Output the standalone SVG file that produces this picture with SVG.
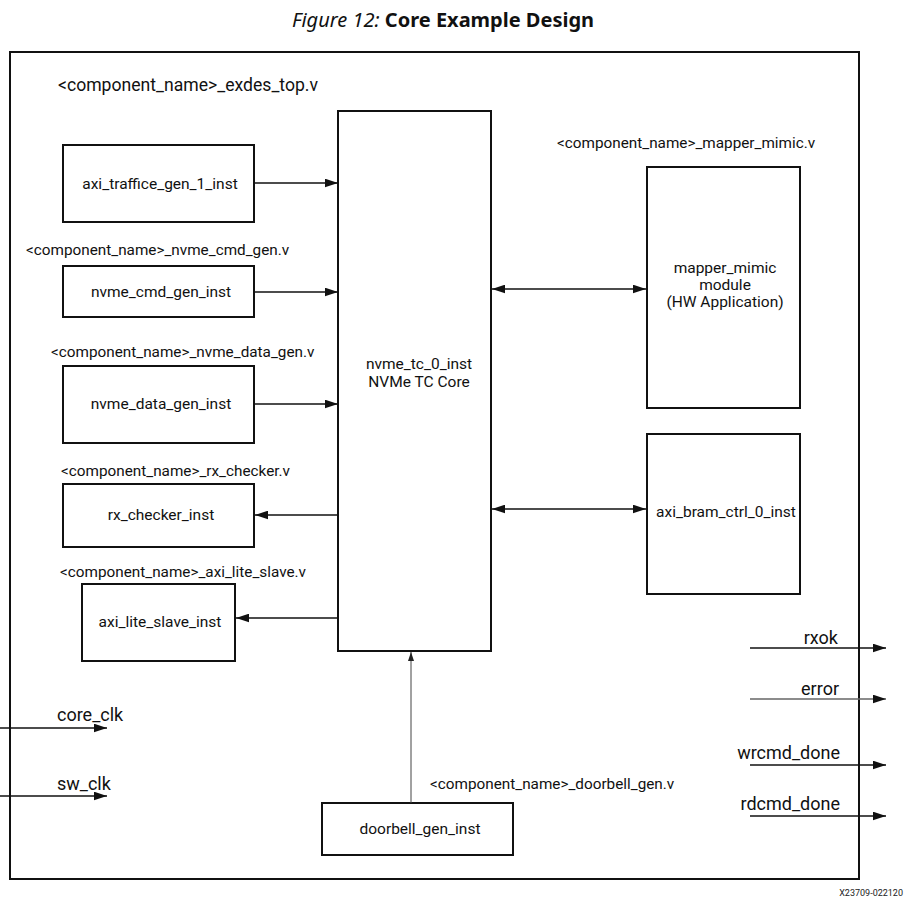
<svg xmlns="http://www.w3.org/2000/svg" width="906" height="903" viewBox="0 0 906 903">
<style>
.box{fill:#fff;stroke:#111;stroke-width:2}
.lbl{font-family:Roboto,"Liberation Sans",sans-serif;font-size:15.3px;fill:#111}
.lblb{font-family:Roboto,"Liberation Sans",sans-serif;font-size:15.5px;fill:#111}
.sig{font-family:Roboto,"Liberation Sans",sans-serif;font-size:18px;fill:#111}
.mid{text-anchor:middle}
.end{text-anchor:end}
.ln{stroke:#111;stroke-width:1.5;fill:none}
</style>
<defs>
<marker id="ah" markerUnits="userSpaceOnUse" markerWidth="13" markerHeight="9" refX="12" refY="4" orient="auto-start-reverse" viewBox="0 0 12 8">
<path d="M0,0 L12,4 L0,8 z" fill="#111"/>
</marker>
<marker id="ahg" markerUnits="userSpaceOnUse" markerWidth="9" markerHeight="13" refX="12" refY="4" orient="auto" viewBox="0 0 12 8">
<path d="M0,0 L12,4 L0,8 z" fill="#222"/>
</marker>
</defs>
<rect width="906" height="903" fill="#fff"/>
<text x="443" y="27" text-anchor="middle" font-family="'Noto Sans','Open Sans',sans-serif" font-size="20px" fill="#111"><tspan font-style="italic">Figure 12:</tspan> <tspan font-weight="bold">Core Example Design</tspan></text>
<g id="top">
<rect x="10" y="52" width="849" height="827" fill="none" stroke="#111" stroke-width="2"/>
<text class="sig" x="58" y="91" style="font-size:17.6px">&lt;component_name&gt;_exdes_top.v</text>
</g>
<g id="core">
<rect class="box" x="338" y="111" width="153" height="540"/>
<text class="lblb mid" x="419" y="369">nvme_tc_0_inst</text>
<text class="lblb mid" x="419" y="387">NVMe TC Core</text>
</g>
<g id="axi_traffic">
<rect class="box" x="63" y="145" width="191" height="77"/>
<text class="lblb mid" x="160" y="188.5">axi_traffice_gen_1_inst</text>
</g>
<g id="nvme_cmd">
<text class="lbl" x="26" y="255">&lt;component_name&gt;_nvme_cmd_gen.v</text>
<rect class="box" x="63" y="266" width="191" height="51"/>
<text class="lblb mid" x="161" y="296.5">nvme_cmd_gen_inst</text>
</g>
<g id="nvme_data">
<text class="lbl" x="51" y="357">&lt;component_name&gt;_nvme_data_gen.v</text>
<rect class="box" x="63" y="366" width="191" height="77"/>
<text class="lblb mid" x="161" y="408.5">nvme_data_gen_inst</text>
</g>
<g id="rx_checker">
<text class="lbl" x="61" y="476">&lt;component_name&gt;_rx_checker.v</text>
<rect class="box" x="63" y="484" width="191" height="63"/>
<text class="lblb mid" x="161" y="519.5">rx_checker_inst</text>
</g>
<g id="axi_lite">
<text class="lbl" x="60" y="577">&lt;component_name&gt;_axi_lite_slave.v</text>
<rect class="box" x="82" y="584" width="153" height="77"/>
<text class="lblb mid" x="160" y="626.5">axi_lite_slave_inst</text>
</g>
<g id="mapper">
<text class="lbl" x="557" y="147.5">&lt;component_name&gt;_mapper_mimic.v</text>
<rect class="box" x="647" y="167" width="153" height="241"/>
<text class="lblb mid" x="725" y="272.5">mapper_mimic</text>
<text class="lblb mid" x="725" y="289.5">module</text>
<text class="lblb mid" x="725" y="306.5">(HW Application)</text>
</g>
<g id="bram">
<rect class="box" x="647" y="434" width="153" height="160"/>
<text class="lblb mid" x="726" y="516.5">axi_bram_ctrl_0_inst</text>
</g>
<g id="doorbell">
<text class="lbl" x="430" y="789">&lt;component_name&gt;_doorbell_gen.v</text>
<rect class="box" x="322" y="803" width="191" height="52"/>
<text class="lblb mid" x="420" y="833.5">doorbell_gen_inst</text>
</g>
<g id="signals">
<text class="sig" x="57" y="721">core_clk</text>
<text class="sig" x="57" y="790">sw_clk</text>
<text class="sig end" x="838" y="644">rxok</text>
<text class="sig end" x="839" y="695">error</text>
<text class="sig end" x="840" y="759">wrcmd_done</text>
<text class="sig end" x="840" y="810">rdcmd_done</text>
</g>
<g id="connectors">
<line class="ln" x1="254" y1="183" x2="338" y2="183" marker-end="url(#ah)"/>
<line class="ln" x1="254" y1="292" x2="338" y2="292" marker-end="url(#ah)"/>
<line class="ln" x1="254" y1="404" x2="338" y2="404" marker-end="url(#ah)"/>
<line class="ln" x1="338" y1="515" x2="255" y2="515" marker-end="url(#ah)"/>
<line class="ln" x1="338" y1="618" x2="236" y2="618" marker-end="url(#ah)"/>
<line class="ln" x1="492" y1="289" x2="646" y2="289" marker-start="url(#ah)" marker-end="url(#ah)"/>
<line class="ln" x1="492" y1="509" x2="646" y2="509" marker-start="url(#ah)" marker-end="url(#ah)"/>
<line x1="411" y1="803" x2="411" y2="652" stroke="#444" stroke-width="1" marker-end="url(#ahg)"/>
<line class="ln" x1="0" y1="728" x2="107" y2="728" marker-end="url(#ah)"/>
<line class="ln" x1="0" y1="796" x2="107" y2="796" marker-end="url(#ah)"/>
<line class="ln" x1="750" y1="648" x2="886" y2="648" marker-end="url(#ah)"/>
<line x1="750" y1="699" x2="886" y2="699" stroke="#666" stroke-width="1.5" marker-end="url(#ah)"/>
<line class="ln" x1="750" y1="765" x2="886" y2="765" marker-end="url(#ah)"/>
<line class="ln" x1="750" y1="816" x2="886" y2="816" marker-end="url(#ah)"/>
</g>
<text x="903" y="896" text-anchor="end" font-family="Roboto,'Liberation Sans',sans-serif" font-size="9px" fill="#222">X23709-022120</text>
</svg>
